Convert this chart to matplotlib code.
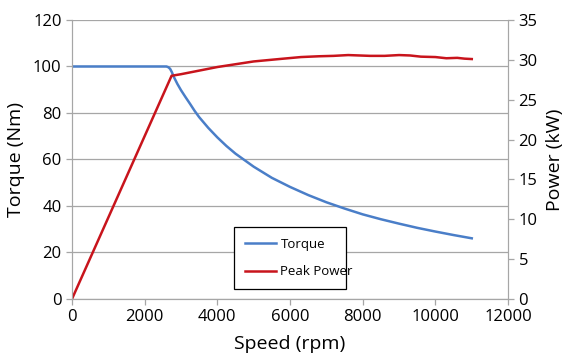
import matplotlib.pyplot as plt
import numpy as np

# values
torque_rpm = [0, 1000, 2000, 2600, 2650, 2700, 2750, 2800, 2900, 3000, 3125, 3250, 3375, 3500,
              3750, 4000, 4250, 4500, 5000, 5500, 6000, 6500, 7000, 7500, 8000, 8500,
              9000, 9500, 10000, 10500, 11000]
torque_nm = [100, 100, 100, 100, 99.7, 99.0, 97.5, 95.6, 92.5, 89.8, 86.8, 83.9, 80.9, 78.2,
             73.6, 69.5, 65.8, 62.5, 56.9, 52.1, 48.2, 44.7, 41.6, 38.9, 36.4, 34.3,
             32.4, 30.6, 29.0, 27.5, 26.1]

power_rpm = [0, 2740, 3000, 3500, 4000, 4500, 5000, 5700, 6300, 6800, 7200, 7600,
             7900, 8200, 8600, 9000, 9300, 9600, 10000, 10300, 10600, 10800, 11000]
power_kw = [0, 28.0, 28.2, 28.65, 29.1, 29.45, 29.8, 30.1, 30.35, 30.45, 30.5, 30.6,
            30.55, 30.5, 30.5, 30.6, 30.55, 30.4, 30.35, 30.2, 30.25, 30.15, 30.1]

blue = "#4A7EC8"
red = "#C8141C"
grid = "#A6A6A6"

plt.rcParams["font.family"] = ["Open Sans", "DejaVu Sans"]

fig = plt.figure(figsize=(5.69, 3.57), dpi=100)
ax = fig.add_axes([0.1265, 0.1625, 0.7665, 0.7815])
ax2 = ax.twinx()

l1, = ax.plot(torque_rpm, torque_nm, color=blue, lw=1.8, label="Torque")
l2, = ax2.plot(power_rpm, power_kw, color=red, lw=1.8, label="Peak Power")

ax.set_xlim(0, 12000)
ax.set_ylim(0, 120)
ax2.set_ylim(0, 35)
ax.set_xticks(np.arange(0, 12001, 2000))
ax.set_yticks(np.arange(0, 121, 20))
ax2.set_yticks(np.arange(0, 36, 5))

ax.yaxis.grid(True, color=grid, lw=0.9)
ax.set_axisbelow(True)

for a in (ax, ax2):
    for s in a.spines.values():
        s.set_color(grid)
    a.spines["top"].set_visible(False)
    a.tick_params(colors=grid, labelcolor="black", labelsize=12, length=4, width=0.9)

ax.set_xlabel("Speed (rpm)", fontsize=14, labelpad=7)
ax.set_ylabel("Torque (Nm)", fontsize=14, labelpad=6)
ax2.set_ylabel("Power (kW)", fontsize=14, labelpad=6)

leg = ax.legend(handles=[l1, l2], loc="lower left", bbox_to_anchor=(0.372, 0.036, 0.257, 0.2),
                mode="expand", fontsize=9.5, fancybox=False, framealpha=1,
                edgecolor="black", handlelength=2.4, handletextpad=0.3,
                labelspacing=1.1, borderpad=0.8, borderaxespad=0)
leg.get_frame().set_linewidth(0.9)

fig.savefig("out.png", dpi=100)
